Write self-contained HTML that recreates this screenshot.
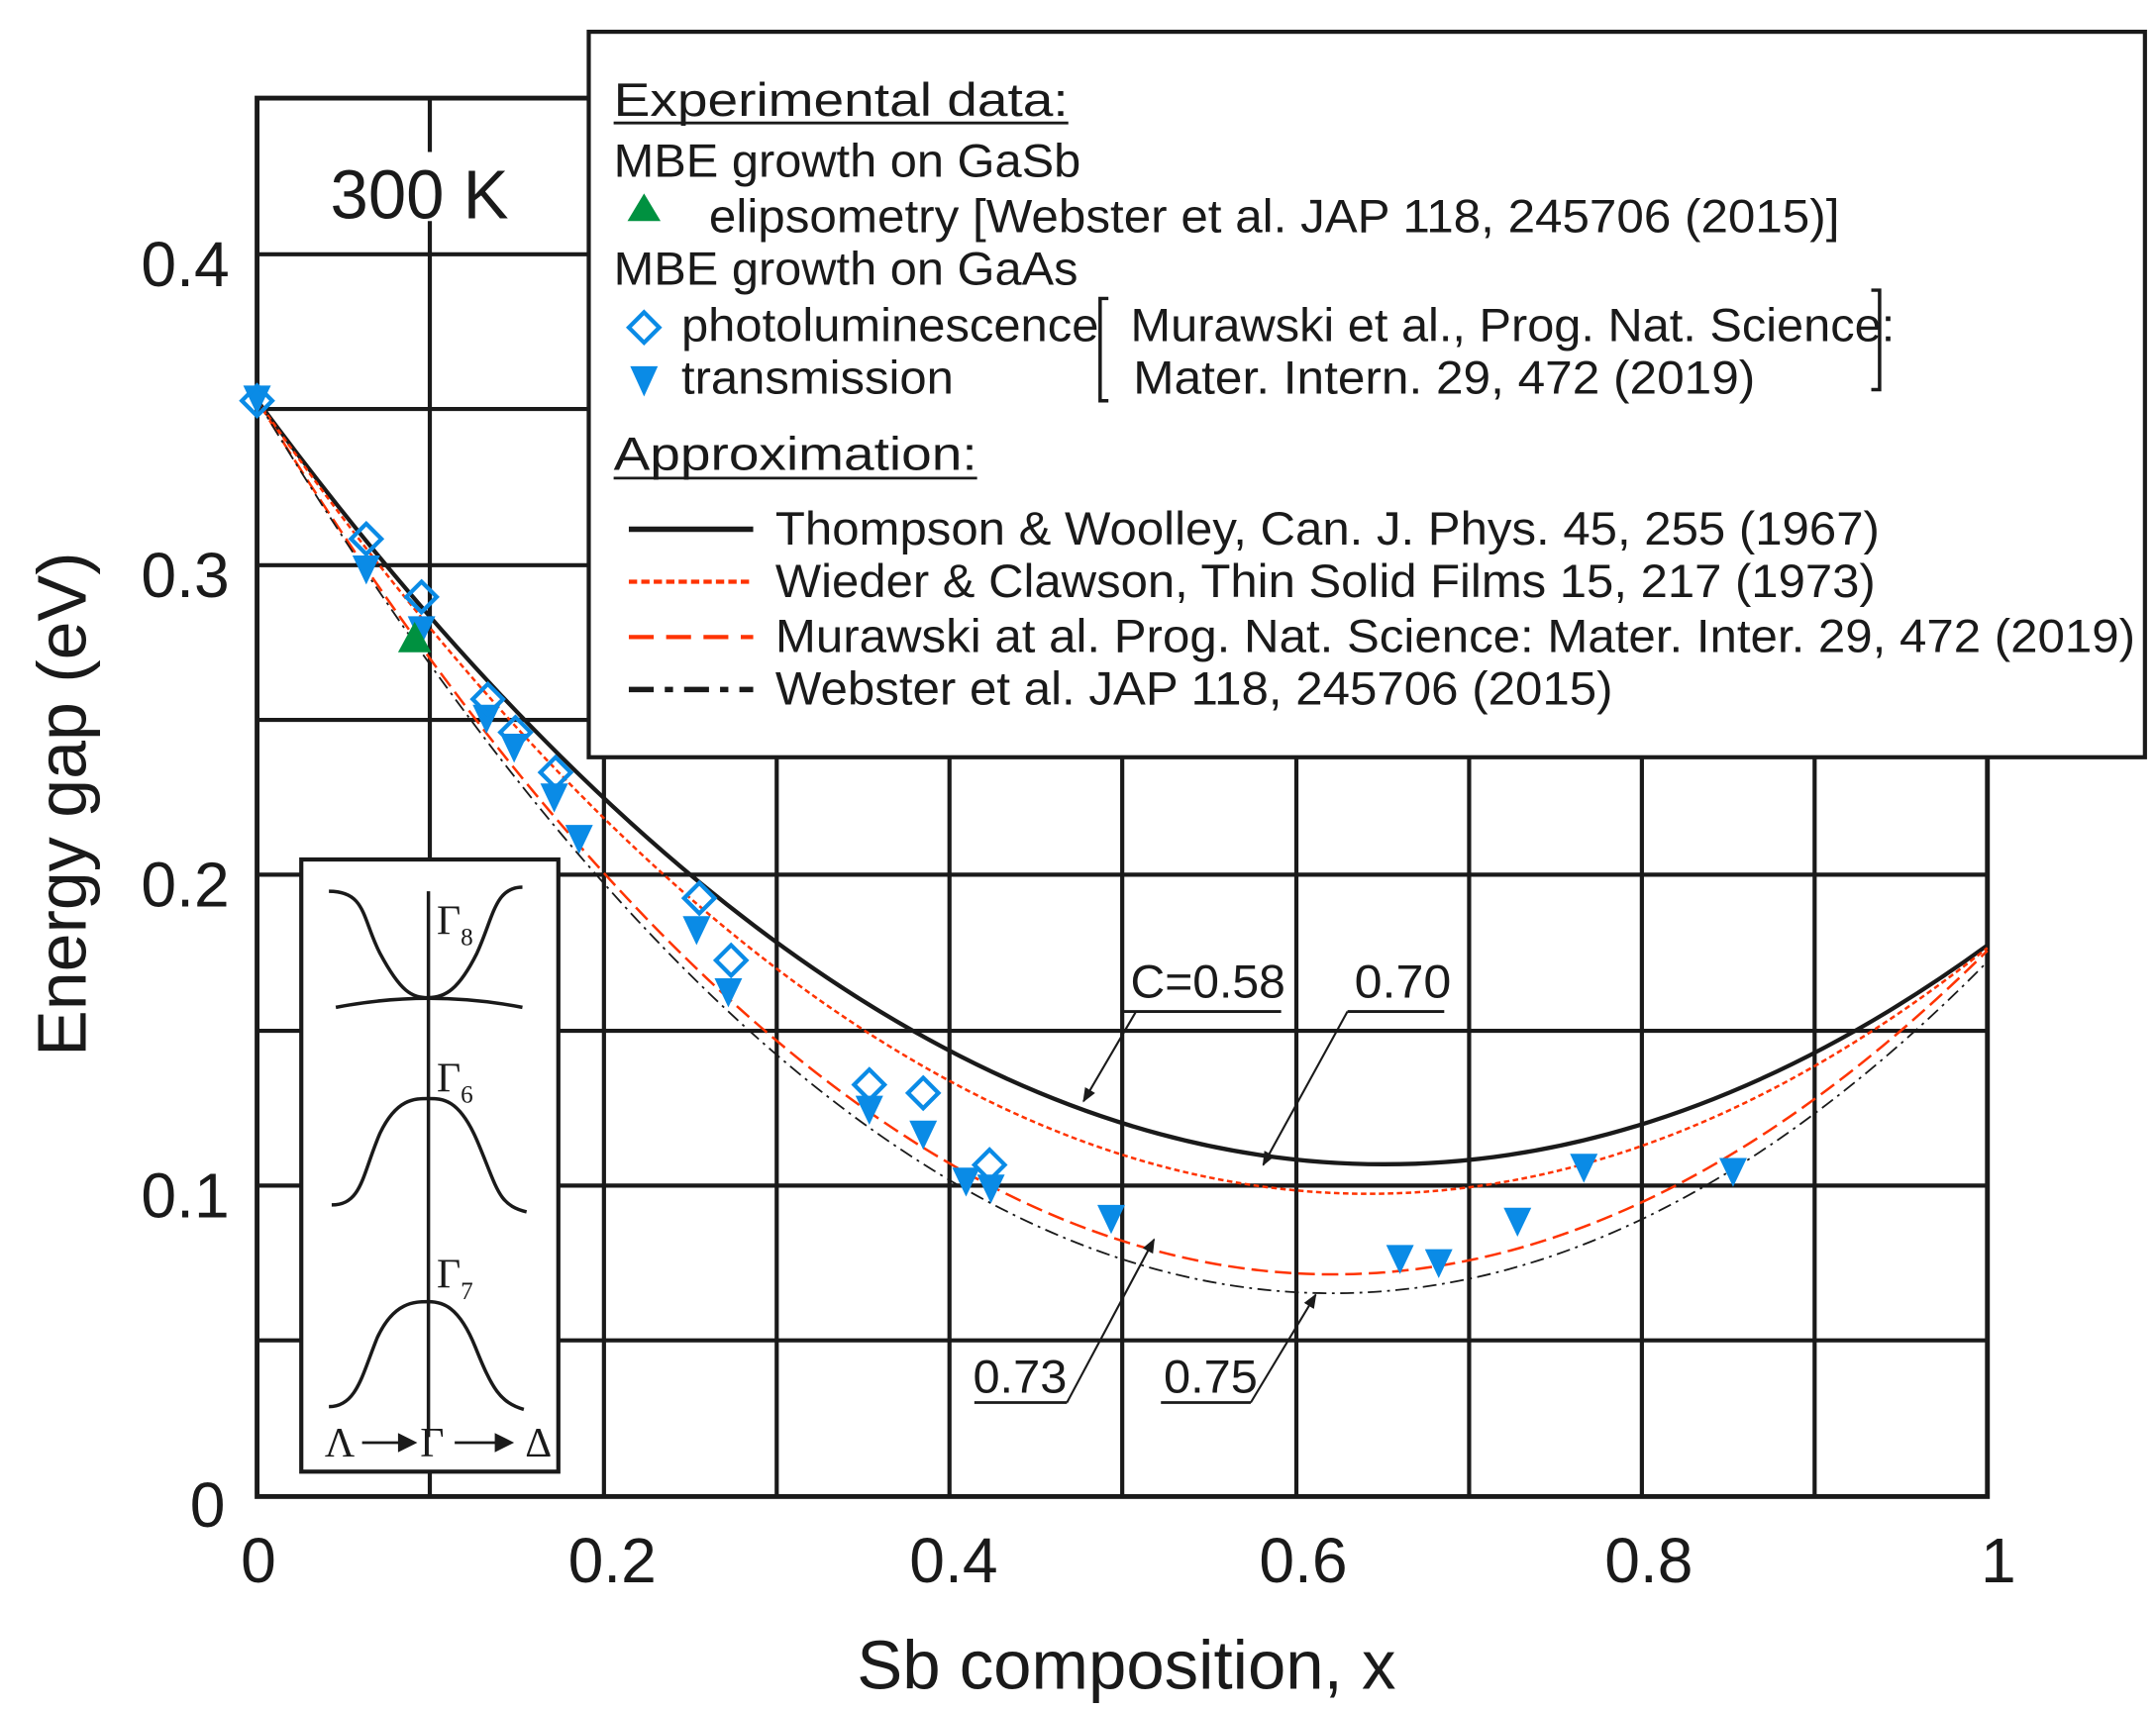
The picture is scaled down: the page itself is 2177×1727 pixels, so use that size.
<!DOCTYPE html>
<html><head><meta charset="utf-8"><style>
html,body{margin:0;padding:0;background:#fff;}
svg{display:block;}
text{font-family:"Liberation Sans",Arial,sans-serif;fill:#1a1a1a;}
.ser{font-family:"Liberation Serif","Times New Roman",serif;}
</style></head><body>
<svg width="2177" height="1727" viewBox="0 0 1560 1237.5" preserveAspectRatio="none" xmlns="http://www.w3.org/2000/svg">
<defs>
<marker id="ar" viewBox="0 0 10 10" refX="9" refY="5" markerWidth="7" markerHeight="7" orient="auto"><path d="M0,1 L10,5 L0,9 z" fill="#1a1a1a"/></marker>
</defs>
<rect width="1560" height="1237.5" fill="#fff"/>
<g stroke="#1a1a1a" stroke-width="3" fill="none">
<path d="M186,970H1438M186,858H1438M186,746H1438M186,633H1438M186,521H1438M186,409H1438M186,296H1438M186,184H1438"/>
<path d="M311,71V110M311,160V1083M437,71V1083M562,71V1083M687,71V1083M812,71V1083M938,71V1083M1063,71V1083M1188,71V1083M1313,71V1083"/>
<rect x="186" y="71" width="1252" height="1012" stroke-width="3.5"/>
</g>
<path d="M186,289.6 Q812,1138.6 1438,684.1" fill="none" stroke="#1a1a1a" stroke-width="3"/>
<path d="M186,289.6 Q812,1183.6 1438,686" fill="none" stroke="#ff3300" stroke-width="1.8" stroke-dasharray="4,2.5"/>
<path d="M186,289.6 Q812,1307.2 1438,688" fill="none" stroke="#ff3300" stroke-width="1.8" stroke-dasharray="12,5"/>
<path d="M186,289.6 Q812,1329.7 1438,696" fill="none" stroke="#1a1a1a" stroke-width="1.3" stroke-dasharray="10,4,2,4"/>
<rect x="426" y="23" width="1126" height="525" fill="#fff" stroke="#1a1a1a" stroke-width="3"/>
<g font-size="34">
<text x="444" y="84" textLength="329" lengthAdjust="spacingAndGlyphs">Experimental data:</text>
<line x1="444" y1="89" x2="773" y2="89" stroke="#1a1a1a" stroke-width="2"/>
<text x="444" y="128" textLength="338" lengthAdjust="spacingAndGlyphs">MBE growth on GaSb</text>
<polygon points="466,140 478,160 454,160" fill="#009140"/>
<text x="513" y="168" textLength="818" lengthAdjust="spacingAndGlyphs">elipsometry [Webster et al. JAP 118, 245706 (2015)]</text>
<text x="444" y="206" textLength="336" lengthAdjust="spacingAndGlyphs">MBE growth on GaAs</text>
<polygon points="466,226 477,237 466,248 455,237" fill="none" stroke="#0a8be6" stroke-width="3"/>
<text x="493" y="247" textLength="302" lengthAdjust="spacingAndGlyphs">photoluminescence</text>
<polygon points="456,265 476,265 466,287" fill="#0a8be6"/>
<text x="493" y="285" textLength="197" lengthAdjust="spacingAndGlyphs">transmission</text>
<path d="M802,216H796V290H802M1354,210H1360V282H1354" fill="none" stroke="#1a1a1a" stroke-width="2.5"/>
<text x="818" y="247" textLength="553" lengthAdjust="spacingAndGlyphs">Murawski et al., Prog. Nat. Science:</text>
<text x="820" y="285" textLength="450" lengthAdjust="spacingAndGlyphs">Mater. Intern. 29, 472 (2019)</text>
<text x="444" y="340" textLength="263" lengthAdjust="spacingAndGlyphs">Approximation:</text>
<line x1="444" y1="346" x2="707" y2="346" stroke="#1a1a1a" stroke-width="2"/>
<line x1="455" y1="383" x2="545" y2="383" stroke="#1a1a1a" stroke-width="4"/>
<line x1="455" y1="421" x2="545" y2="421" stroke="#ff3300" stroke-width="3" stroke-dasharray="6,3"/>
<line x1="455" y1="461" x2="545" y2="461" stroke="#ff3300" stroke-width="3" stroke-dasharray="18,9"/>
<line x1="455" y1="499" x2="545" y2="499" stroke="#1a1a1a" stroke-width="4" stroke-dasharray="18,8,6,8"/>
<text x="561" y="394" textLength="799" lengthAdjust="spacingAndGlyphs">Thompson &amp; Woolley, Can. J. Phys. 45, 255 (1967)</text>
<text x="561" y="432" textLength="796" lengthAdjust="spacingAndGlyphs">Wieder &amp; Clawson, Thin Solid Films 15, 217 (1973)</text>
<text x="561" y="472" textLength="984" lengthAdjust="spacingAndGlyphs">Murawski at al. Prog. Nat. Science: Mater. Inter. 29, 472 (2019)</text>
<text x="561" y="510" textLength="606" lengthAdjust="spacingAndGlyphs">Webster et al. JAP 118, 245706 (2015)</text>
</g>
<text x="239" y="158" font-size="50" textLength="129" lengthAdjust="spacingAndGlyphs">300 K</text>
<g fill="#0a8be6">
<polygon points="176,279 196,279 186,300"/>
<polygon points="255,402 275,402 265,423"/>
<polygon points="295,446 315,446 305,467"/>
<polygon points="342,510 362,510 352,531"/>
<polygon points="362,531 382,531 372,552"/>
<polygon points="391,567 411,567 401,588"/>
<polygon points="409,597 429,597 419,618"/>
<polygon points="494,663 514,663 504,684"/>
<polygon points="517,708 537,708 527,729"/>
<polygon points="619,793 639,793 629,814"/>
<polygon points="658,811 678,811 668,832"/>
<polygon points="689,845 709,845 699,866"/>
<polygon points="707,850 727,850 717,871"/>
<polygon points="794,872 814,872 804,893"/>
<polygon points="1003,901 1023,901 1013,922"/>
<polygon points="1031,904 1051,904 1041,925"/>
<polygon points="1088,874 1108,874 1098,895"/>
<polygon points="1136,835 1156,835 1146,856"/>
<polygon points="1244,838 1264,838 1254,859"/>
</g>
<polygon points="300,450 312,472 288,472" fill="#009140"/>
<g fill="none" stroke="#0a8be6" stroke-width="3">
<polygon points="186,279 197,290 186,301 175,290"/>
<polygon points="265,379 276,390 265,401 254,390"/>
<polygon points="305,421 316,432 305,443 294,432"/>
<polygon points="353,495 364,506 353,517 342,506"/>
<polygon points="373,519 384,530 373,541 362,530"/>
<polygon points="402,548 413,559 402,570 391,559"/>
<polygon points="506,639 517,650 506,661 495,650"/>
<polygon points="529,684 540,695 529,706 518,695"/>
<polygon points="629,774 640,785 629,796 618,785"/>
<polygon points="668,780 679,791 668,802 657,791"/>
<polygon points="716,832 727,843 716,854 705,843"/>
</g>
<g font-size="34">
<text x="818" y="722" textLength="112" lengthAdjust="spacingAndGlyphs">C=0.58</text>
<text x="980" y="722" textLength="70" lengthAdjust="spacingAndGlyphs">0.70</text>
<text x="704" y="1008" textLength="68" lengthAdjust="spacingAndGlyphs">0.73</text>
<text x="842" y="1008" textLength="68" lengthAdjust="spacingAndGlyphs">0.75</text>
</g>
<g stroke="#1a1a1a" stroke-width="2" fill="none">
<path d="M812,732H927M975,732H1045M705,1015H772M840,1015H905"/>
<path d="M822,732L784,797" marker-end="url(#ar)" stroke-width="1.5"/>
<path d="M975,732L914,843" marker-end="url(#ar)" stroke-width="1.5"/>
<path d="M772,1015L835,897" marker-end="url(#ar)" stroke-width="1.5"/>
<path d="M905,1015L952,937" marker-end="url(#ar)" stroke-width="1.5"/>
</g>
<rect x="218" y="622" width="186" height="443" fill="#fff" stroke="#1a1a1a" stroke-width="3"/>
<g stroke="#1a1a1a" stroke-width="2.5" fill="none">
<line x1="310" y1="645" x2="310" y2="1040"/>
<path d="M238,645 C265,645 262,665 275,690 C290,718 298,722 310,722 C322,722 332,716 345,690 C357,664 358,642 378,642"/>
<path d="M243,729 Q310,716 378,729"/>
<path d="M240,872 C262,872 262,850 275,820 C287,795 300,795 310,795 C320,795 332,795 345,825 C360,860 360,872 381,877"/>
<path d="M238,1018 C258,1018 262,995 273,968 C285,942 300,942 310,942 C320,942 332,945 344,975 C356,1005 362,1015 379,1020"/>
</g>
<text x="316" y="676" font-size="30" class="ser">Γ<tspan font-size="18" dy="8">8</tspan></text>
<text x="316" y="790" font-size="30" class="ser">Γ<tspan font-size="18" dy="8">6</tspan></text>
<text x="316" y="932" font-size="30" class="ser">Γ<tspan font-size="18" dy="8">7</tspan></text>
<text x="235" y="1054" font-size="30" class="ser">Λ</text>
<text x="304" y="1054" font-size="30" class="ser">Γ</text>
<text x="380" y="1054" font-size="30" class="ser">Δ</text>
<g stroke="#1a1a1a" stroke-width="2"><line x1="262" y1="1044" x2="290" y2="1044"/><line x1="329" y1="1044" x2="360" y2="1044"/></g>
<g fill="#1a1a1a"><polygon points="288,1037 302,1044 288,1051"/><polygon points="358,1037 372,1044 358,1051"/></g>
<g font-size="46" text-anchor="end">
<text x="166" y="207">0.4</text>
<text x="166" y="432">0.3</text>
<text x="166" y="656">0.2</text>
<text x="166" y="881">0.1</text>
<text x="163" y="1105">0</text>
</g>
<g font-size="46" text-anchor="middle">
<text x="187" y="1145">0</text>
<text x="443" y="1145">0.2</text>
<text x="690" y="1145">0.4</text>
<text x="943" y="1145">0.6</text>
<text x="1193" y="1145">0.8</text>
<text x="1446" y="1145">1</text>
</g>
<text x="815" y="1222" font-size="50" text-anchor="middle" textLength="390" lengthAdjust="spacingAndGlyphs">Sb composition, x</text>
<text transform="translate(62,582) rotate(-90)" font-size="50" text-anchor="middle" textLength="365" lengthAdjust="spacingAndGlyphs">Energy gap (eV)</text>
</svg>
</body></html>
